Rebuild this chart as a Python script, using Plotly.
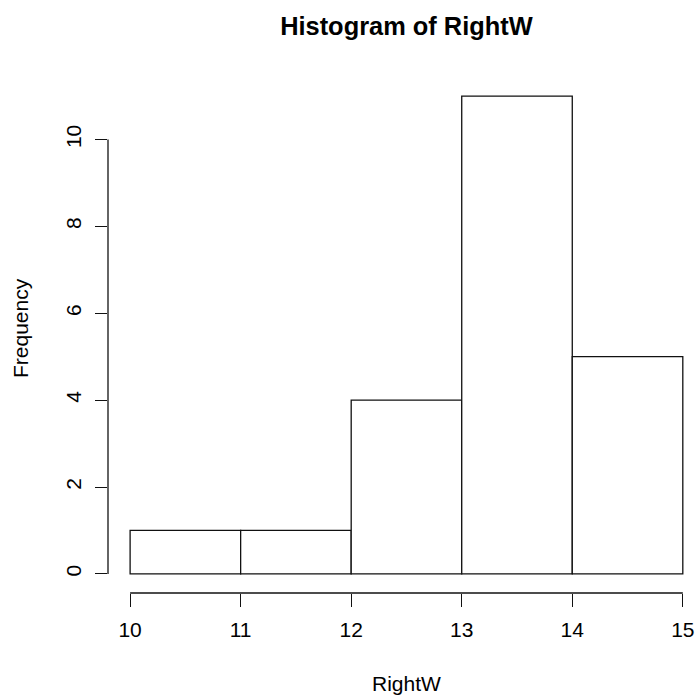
import plotly.graph_objects as go

breaks = [10, 11, 12, 13, 14, 15]
counts = [1, 1, 4, 11, 5]
x_ticks = [10, 11, 12, 13, 14, 15]
y_ticks = [0, 2, 4, 6, 8, 10]
title_text = "Histogram of RightW"
x_label = "RightW"
y_label = "Frequency"

FONT = "Liberation Sans, Arial, Helvetica, sans-serif"
LINE = "#111111"
LW = 1.3

centers = [(breaks[i] + breaks[i + 1]) / 2 for i in range(len(counts))]
widths = [breaks[i + 1] - breaks[i] for i in range(len(counts))]

fig = go.Figure()
fig.add_trace(go.Bar(
    x=centers, y=counts, width=widths,
    marker=dict(color="white", line=dict(color=LINE, width=LW)),
    hoverinfo="skip",
))

L, T, B = 108, 77, 107
W, H = 696, 700
plot_w = W - L
plot_h = H - T - B
px_per_unit_x = (682.7 - 130.0) / (breaks[-1] - breaks[0])
x0 = breaks[0] - 0.04 * (breaks[-1] - breaks[0])
x1 = x0 + plot_w / px_per_unit_x
ymax = max(counts)
y0 = -0.04 * ymax
y1 = ymax * 1.04
cx = (406.4 - L) / plot_w

fig.update_layout(
    width=W, height=H,
    margin=dict(l=L, r=0, t=T, b=B, pad=0),
    paper_bgcolor="white", plot_bgcolor="white",
    showlegend=False,
    font=dict(family=FONT, size=21, color="black"),
    title=dict(text="<b>" + title_text + "</b>", x=cx, xref="paper",
               xanchor="center", y=1 - 26.5 / H, yref="container", yanchor="middle",
               font=dict(family=FONT, size=25.4, color="black")),
    xaxis=dict(range=[x0, x1], tickvals=x_ticks, ticktext=[str(v) for v in x_ticks],
               ticks="outside", ticklen=12.5, tickwidth=LW, tickcolor=LINE,
               ticklabelstandoff=5,
               showline=False, showgrid=False, zeroline=False,
               tickfont=dict(family=FONT, size=21, color="black")),
    yaxis=dict(range=[y0, y1], tickvals=y_ticks, ticktext=[str(v) for v in y_ticks],
               ticks="outside", ticklen=12.5, tickwidth=LW, tickcolor=LINE, tickangle=-90,
               ticklabelstandoff=5,
               showline=False, showgrid=False, zeroline=False,
               tickfont=dict(family=FONT, size=21, color="black")),
)

fig.add_annotation(text=x_label, xref="paper", yref="paper", x=cx, y=-(683 - (T + plot_h)) / plot_h,
                   xanchor="center", yanchor="middle", showarrow=False,
                   font=dict(family=FONT, size=21, color="black"))
fig.add_annotation(text=y_label, xref="paper", yref="paper", x=-(L - 20) / plot_w,
                   y=1 - (328 - T) / plot_h, xanchor="center", yanchor="middle",
                   textangle=-90, showarrow=False,
                   font=dict(family=FONT, size=21, color="black"))

fig.add_shape(type="line", xref="x", yref="paper", x0=x_ticks[0], x1=x_ticks[-1], y0=0, y1=0,
              line=dict(color=LINE, width=LW))
fig.add_shape(type="line", xref="paper", yref="y", x0=0, x1=0, y0=y_ticks[0], y1=y_ticks[-1],
              line=dict(color=LINE, width=LW))

fig.write_html("out.html")
